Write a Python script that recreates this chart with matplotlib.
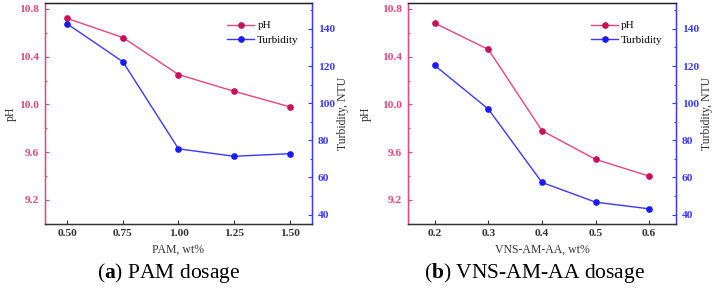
import matplotlib.pyplot as plt
import numpy as np

# panel (a): PAM dosage
pam_dose = [0.50, 0.75, 1.00, 1.25, 1.50]
pam_ph = [10.72, 10.56, 10.25, 10.11, 9.98]
pam_turb = [142.7, 122.3, 75.4, 71.4, 72.8]

# panel (b): VNS-AM-AA dosage
vns_dose = [0.2, 0.3, 0.4, 0.5, 0.6]
vns_ph = [10.68, 10.46, 9.78, 9.54, 9.40]
vns_turb = [120.3, 96.8, 57.3, 46.7, 43.1]

ph_ticks = [9.2, 9.6, 10.0, 10.4, 10.8]
turb_ticks = [40, 60, 80, 100, 120, 140]

PINK = '#e8457e'
PINK_DARK = '#c8105a'
BLUE = '#3a3aff'
BLUE_DARK = '#1a1aff'
SERIF = ['Liberation Serif', 'DejaVu Serif']

plt.rcParams['font.family'] = SERIF
plt.rcParams['mathtext.fontset'] = 'custom'
plt.rcParams['mathtext.rm'] = 'Liberation Serif'
plt.rcParams['mathtext.bf'] = 'Liberation Serif:bold'


def draw_panel(ax, x, ph, turb, xlim, xticks, xfmt, xlabel, left_lab_x):
    ax2 = ax.twinx()
    l1, = ax.plot(x, ph, color=PINK, lw=1.0, marker='o', ms=3.8,
                  mfc=PINK_DARK, mec=PINK_DARK, label='pH')
    l2, = ax2.plot(x, turb, color=BLUE, lw=1.0, marker='o', ms=3.8,
                   mfc=BLUE_DARK, mec=BLUE_DARK, label='Turbidity')

    ax.set_xlim(*xlim)
    ax.set_ylim(9.0, 10.85)
    ax2.set_ylim(35, 154)

    ax.set_xticks(xticks)
    ax.set_xticklabels([xfmt.format(v) for v in xticks])
    ax.set_yticks(ph_ticks)
    ax.set_yticks(np.arange(9.0, 10.85, 0.2), minor=True)
    ax2.set_yticks(turb_ticks)
    ax2.set_yticks(np.arange(40, 151, 10), minor=True)

    for t in ax.get_xticklabels() + ax.get_yticklabels() + ax2.get_yticklabels():
        t.set_fontweight('bold')
        t.set_fontsize(8.2)

    ax.tick_params(axis='x', direction='in', length=3, width=0.8, pad=4, colors='#333333')
    ax.tick_params(axis='y', which='major', direction='in', length=3, width=0.8,
                   colors=PINK, pad=4.5)
    ax.tick_params(axis='y', which='minor', direction='in', length=1.5, width=0.8,
                   colors=PINK)
    ax2.tick_params(axis='y', which='major', direction='in', length=3, width=0.8,
                    colors=BLUE, pad=4)
    ax2.tick_params(axis='y', which='minor', direction='in', length=1.5, width=0.8,
                    colors=BLUE)

    ax2.spines['left'].set_color(PINK)
    ax2.spines['right'].set_color(BLUE)
    ax2.spines['top'].set_color('#222222')
    ax2.spines['bottom'].set_color('#333333')
    for s in ax2.spines.values():
        s.set_linewidth(1.0)

    ax.set_xlabel(xlabel, fontsize=8.5, color='#333333', labelpad=4)
    ax.set_ylabel('pH', fontsize=8.5, color='#333333')
    ax.yaxis.set_label_coords(left_lab_x, 0.5)
    ax2.set_ylabel('Turbidity, NTU', fontsize=8.5, color='#333333')
    ax2.yaxis.set_label_coords(1.093, 0.5)

    ax2.legend(handles=[l1, l2], loc='upper right', bbox_to_anchor=(0.98, 0.955),
               frameon=False, fontsize=8, handlelength=2.4, handletextpad=0.3,
               labelspacing=0.45, borderpad=0.2)
    return ax2


fig = plt.figure(figsize=(7.14, 2.90), dpi=100)
ax_a = fig.add_axes([0.063, 0.228, 0.374, 0.762])
ax_b = fig.add_axes([0.5714, 0.228, 0.3754, 0.762])

draw_panel(ax_a, pam_dose, pam_ph, pam_turb, (0.40, 1.60),
           pam_dose, '{:.2f}', 'PAM, wt%', -0.105)
draw_panel(ax_b, vns_dose, vns_ph, vns_turb, (0.15, 0.65),
           vns_dose, '{:.1f}', 'VNS-AM-AA, wt%', -0.134)

fig.text(0.236, 0.06, r'($\mathbf{a}$) PAM dosage', ha='center', va='center',
         fontsize=15.5, family=SERIF)
fig.text(0.7485, 0.06, r'($\mathbf{b}$) VNS-AM-AA dosage', ha='center', va='center',
         fontsize=15.5, family=SERIF)

fig.savefig('out.png', dpi=100)
